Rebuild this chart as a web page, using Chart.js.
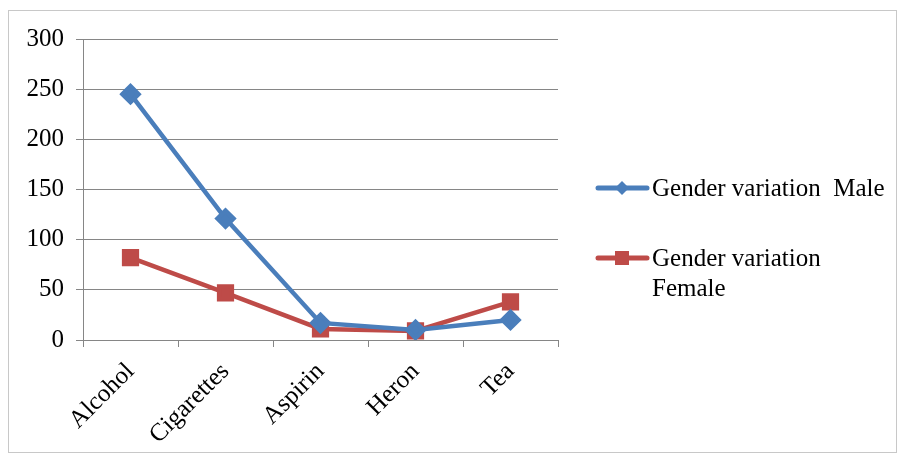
<!DOCTYPE html>
<html>
<head>
<meta charset="utf-8">
<style>
  html, body { margin: 0; padding: 0; background: #fff; }
  #wrap { position: relative; width: 899px; height: 458px; }
</style>
<script src="https://cdn.jsdelivr.net/npm/chart.js@4/dist/chart.umd.min.js"></script>
</head>
<body>
<div id="wrap"><canvas id="myChart" width="899" height="458"></canvas></div>
<script>
// chart data
const categories = ['Alcohol', 'Cigarettes', 'Aspirin', 'Heron', 'Tea'];
const maleValues = [245, 121, 17, 10, 20];
const femaleValues = [82, 47, 11, 9, 38];
const yTicks = [0, 50, 100, 150, 200, 250, 300];

const blue = '#4A7EBB';
const red = '#BE4B48';
const grey = '#868686';
const font = 'Liberation Serif, Times New Roman, serif';

// border round the whole chart + legend on the right
const frameAndLegend = {
  id: 'frameAndLegend',
  beforeDraw(chart) {
    const ctx = chart.ctx;
    ctx.save();
    ctx.fillStyle = '#fff';
    ctx.fillRect(0, 0, chart.width, chart.height);
    ctx.strokeStyle = '#c8c8c8';
    ctx.lineWidth = 1;
    ctx.strokeRect(8.5, 10.5, 888, 442);
    ctx.restore();
  },
  afterDraw(chart) {
    const ctx = chart.ctx;
    const items = [
      { ds: chart.data.datasets[0], y: 188, lines: ['Gender variation  Male'] },
      { ds: chart.data.datasets[1], y: 258, lines: ['Gender variation', 'Female'] }
    ];
    ctx.save();
    items.forEach(it => {
      ctx.strokeStyle = it.ds.borderColor;
      ctx.lineWidth = 5;
      ctx.lineCap = 'round';
      ctx.beginPath();
      ctx.moveTo(598, it.y);
      ctx.lineTo(647, it.y);
      ctx.stroke();
      ctx.fillStyle = it.ds.borderColor;
      if (it.ds.pointStyle === 'rectRot') {
        ctx.beginPath();
        ctx.moveTo(622, it.y - 7);
        ctx.lineTo(629, it.y);
        ctx.lineTo(622, it.y + 7);
        ctx.lineTo(615, it.y);
        ctx.closePath();
        ctx.fill();
      } else {
        ctx.fillRect(615, it.y - 7, 14, 14);
      }
      ctx.fillStyle = '#000';
      ctx.font = '25px ' + font;
      ctx.textBaseline = 'middle';
      it.lines.forEach((t, i) => ctx.fillText(t, 652, it.y + 1 + i * 30));
    });
    ctx.restore();
  }
};

new Chart(document.getElementById('myChart'), {
  type: 'line',
  data: {
    labels: categories,
    datasets: [
      {
        label: 'Gender variation  Male',
        data: maleValues,
        borderColor: blue,
        backgroundColor: blue,
        borderWidth: 4.5,
        pointStyle: 'rectRot',
        pointRadius: 8,
        pointHoverRadius: 8,
        tension: 0
      },
      {
        label: 'Gender variation Female',
        data: femaleValues,
        borderColor: red,
        backgroundColor: red,
        borderWidth: 4.5,
        pointStyle: 'rect',
        pointRadius: 9,
        pointHoverRadius: 9,
        tension: 0
      }
    ]
  },
  options: {
    responsive: false,
    animation: false,
    layout: { padding: { left: 8, right: 341, top: 39, bottom: 0 } },
    plugins: {
      legend: { display: false },
      tooltip: { enabled: false }
    },
    scales: {
      x: {
        offset: true,
        grid: { offset: true, drawOnChartArea: false, drawTicks: true, tickLength: 7, color: grey },
        border: { color: grey, width: 1 },
        ticks: {
          color: '#000',
          font: { family: font, size: 25 },
          minRotation: 45,
          maxRotation: 45,
          padding: 10
        },
        afterFit(scale) { scale.height = 118; }
      },
      y: {
        min: 0,
        max: 300,
        afterBuildTicks(scale) { scale.ticks = yTicks.map(v => ({ value: v })); },
        grid: { color: grey, tickLength: 7 },
        border: { color: grey, width: 1 },
        ticks: {
          color: '#000',
          font: { family: font, size: 25 },
          padding: 12
        },
        afterFit(scale) { scale.width = 75; }
      }
    }
  },
  plugins: [frameAndLegend]
});
</script>
</body>
</html>
